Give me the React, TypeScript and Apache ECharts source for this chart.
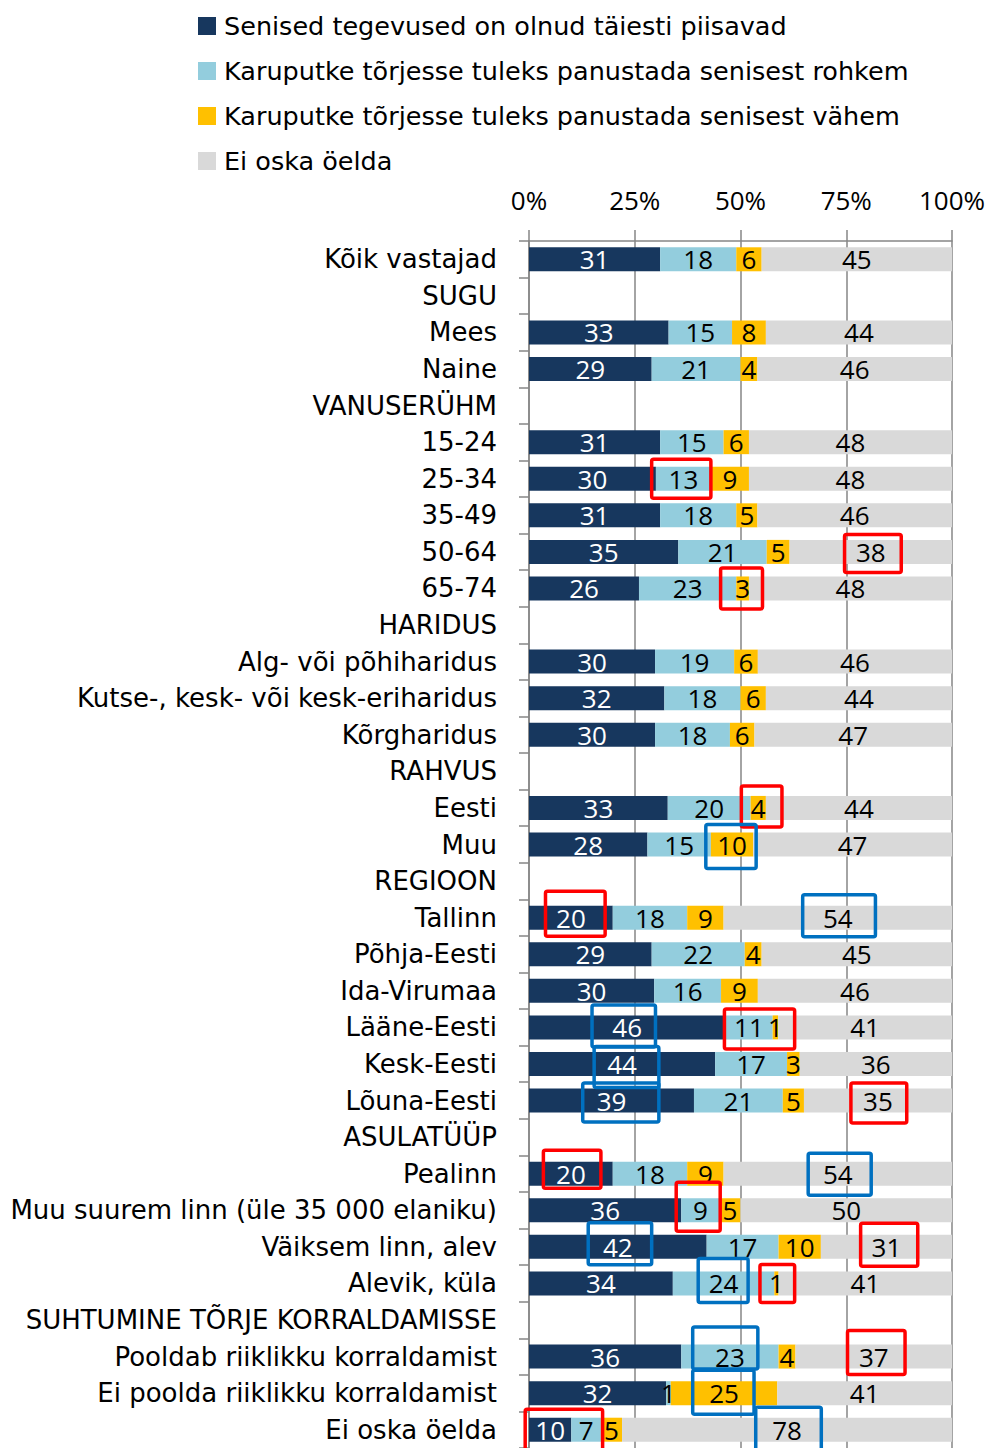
import React, { useEffect, useRef } from 'react';
import * as echarts from 'echarts';

const categories = [
  'Kõik vastajad',
  'SUGU',
  'Mees',
  'Naine',
  'VANUSERÜHM',
  '15-24',
  '25-34',
  '35-49',
  '50-64',
  '65-74',
  'HARIDUS',
  'Alg- või põhiharidus',
  'Kutse-, kesk- või kesk-eriharidus',
  'Kõrgharidus',
  'RAHVUS',
  'Eesti',
  'Muu',
  'REGIOON',
  'Tallinn',
  'Põhja-Eesti',
  'Ida-Virumaa',
  'Lääne-Eesti',
  'Kesk-Eesti',
  'Lõuna-Eesti',
  'ASULATÜÜP',
  'Pealinn',
  'Muu suurem linn (üle 35 000 elaniku)',
  'Väiksem linn, alev',
  'Alevik, küla',
  'SUHTUMINE TÕRJE KORRALDAMISSE',
  'Pooldab riiklikku korraldamist',
  'Ei poolda riiklikku korraldamist',
  'Ei oska öelda',
];

const seriesNames = [
  'Senised tegevused on olnud täiesti piisavad',
  'Karuputke tõrjesse tuleks panustada senisest rohkem',
  'Karuputke tõrjesse tuleks panustada senisest vähem',
  'Ei oska öelda',
];

// Shares in percent (labels are shown rounded); null = group header row
const sufficient = [31, null, 33, 29, null, 31, 30, 31, 35.3, 26, null, 29.8, 32, 29.8, null, 32.8, 28, null, 19.8, 29, 29.6, 46.4, 44, 39, null, 19.8, 36, 42, 34, null, 36, 32.4, 10];
const more = [18, null, 15, 21, null, 15, 13, 18, 20.9, 23, null, 18.7, 18, 17.7, null, 19.6, 15, null, 17.6, 22, 15.8, 11.2, 17, 21, null, 17.6, 9, 17, 24, null, 23, 1.1, 7];
const less = [6, null, 8, 4, null, 6, 9, 5, 5.4, 3, null, 5.6, 6, 5.8, null, 3.6, 10, null, 8.6, 4, 8.7, 1.3, 3, 5, null, 8.6, 5, 10, 1, null, 4, 25.2, 5];
const dontKnow = [45, null, 44, 46, null, 48, 48, 46, 38.4, 48, null, 45.9, 44, 46.7, null, 44, 47, null, 54, 45, 45.9, 41.1, 36, 35, null, 54, 50, 31, 41, null, 37, 41.3, 78];

const xTicks = [0, 25, 50, 75, 100];

// Highlight boxes drawn over the chart (row = category, from/to = percent range)
const highlights = [
  { row: '25-34', from: 29.0, to: 43.0, dy: 0, h: 39, color: 'red' },
  { row: '50-64', from: 74.6, to: 88.0, dy: 1.5, h: 38, color: 'red' },
  { row: '65-74', from: 45.3, to: 55.2, dy: 0, h: 41, color: 'red' },
  { row: 'Eesti', from: 50.2, to: 59.8, dy: -1.5, h: 41, color: 'red' },
  { row: 'Muu', from: 41.8, to: 53.7, dy: 2, h: 44, color: 'blue' },
  { row: 'Tallinn', from: 3.9, to: 18.0, dy: -4, h: 45, color: 'red' },
  { row: 'Tallinn', from: 64.7, to: 81.9, dy: -2, h: 42, color: 'blue' },
  { row: 'Lääne-Eesti', from: 14.9, to: 29.9, dy: -1.5, h: 42, color: 'blue' },
  { row: 'Lääne-Eesti', from: 46.2, to: 62.8, dy: 1.5, h: 40, color: 'red' },
  { row: 'Kesk-Eesti', from: 15.4, to: 30.7, dy: 3, h: 41, color: 'blue' },
  { row: 'Lõuna-Eesti', from: 12.7, to: 30.7, dy: 2, h: 39, color: 'blue' },
  { row: 'Lõuna-Eesti', from: 76.1, to: 89.3, dy: 2.5, h: 40, color: 'red' },
  { row: 'Pealinn', from: 3.4, to: 17.0, dy: -4.5, h: 38, color: 'red' },
  { row: 'Pealinn', from: 66.0, to: 80.9, dy: 0.5, h: 42, color: 'blue' },
  { row: 'Muu suurem linn (üle 35 000 elaniku)', from: 34.8, to: 45.2, dy: -3.5, h: 49, color: 'red' },
  { row: 'Väiksem linn, alev', from: 14.0, to: 29.0, dy: -3, h: 42, color: 'blue' },
  { row: 'Väiksem linn, alev', from: 78.4, to: 91.9, dy: -2, h: 43, color: 'red' },
  { row: 'Alevik, küla', from: 40.0, to: 51.8, dy: -3, h: 44, color: 'blue' },
  { row: 'Alevik, küla', from: 54.6, to: 62.8, dy: 0, h: 38, color: 'red' },
  { row: 'Pooldab riiklikku korraldamist', from: 38.7, to: 54.1, dy: -8.5, h: 42, color: 'blue' },
  { row: 'Pooldab riiklikku korraldamist', from: 75.3, to: 88.9, dy: -4, h: 44, color: 'red' },
  { row: 'Ei poolda riiklikku korraldamist', from: 38.7, to: 53.2, dy: -1, h: 44, color: 'blue' },
  { row: 'Ei oska öelda', from: -0.9, to: 17.4, dy: 1.5, h: 44, color: 'red' },
  { row: 'Ei oska öelda', from: 53.6, to: 69.1, dy: 0, h: 45, color: 'blue' },
];

const COLORS = ['#17375E', '#93CDDD', '#FFC000', '#D9D9D9'];
const BOX_COLORS: Record<string, string> = { red: '#FF0000', blue: '#0070C0' };
const TEXT_FONT = 'DejaVu Sans';
const NUM_FONT = 'Open Sans';
const AXIS_GRAY = '#868686';

export default function App() {
  const ref = useRef<HTMLDivElement>(null);

  useEffect(() => {
    if (!ref.current) return;
    const chart = echarts.init(ref.current, undefined, { renderer: 'svg' });
    const seriesData = [sufficient, more, less, dontKnow];

    chart.setOption({
      animation: false,
      color: COLORS,
      textStyle: { fontFamily: TEXT_FONT },
      legend: {
        orient: 'vertical',
        left: 198,
        top: 11,
        padding: 0,
        itemWidth: 18,
        itemHeight: 18,
        itemGap: 15,
        icon: 'rect',
        data: seriesNames,
        textStyle: { fontSize: 25.5, fontFamily: TEXT_FONT, color: '#000', lineHeight: 30, padding: [0, 0, 0, 3] },
      },
      grid: { left: 529, right: 37, top: 241, height: 1207 },
      xAxis: {
        type: 'value',
        position: 'top',
        min: 0,
        max: 100,
        interval: 25,
        axisLine: { show: true, lineStyle: { color: AXIS_GRAY, width: 1.5 } },
        axisTick: { show: true, length: 11, lineStyle: { color: AXIS_GRAY, width: 1.5 } },
        splitLine: { show: true, lineStyle: { color: AXIS_GRAY, width: 1.5 } },
        axisLabel: {
          fontSize: 26,
          fontFamily: NUM_FONT,
          color: '#000',
          margin: 28,
          formatter: (v: number) => (xTicks.includes(v) ? `${v}%` : ''),
        },
      },
      yAxis: {
        type: 'category',
        inverse: true,
        data: categories,
        axisLine: { show: true, lineStyle: { color: AXIS_GRAY, width: 1.5 } },
        axisTick: { show: true, length: 10, lineStyle: { color: AXIS_GRAY, width: 1.5 } },
        axisLabel: { fontSize: 26, fontFamily: TEXT_FONT, color: '#000', margin: 32, interval: 0 },
      },
      series: seriesNames.map((name, i) => ({
        name,
        type: 'bar',
        stack: 'total',
        barWidth: 24,
        data: seriesData[i],
        itemStyle: { color: COLORS[i] },
        label: {
          show: true,
          position: 'inside',
          fontSize: 26,
          fontFamily: NUM_FONT,
          color: i === 0 ? '#FFFFFF' : '#000000',
          formatter: (p: any) => (p.value == null ? '' : String(Math.round(p.value))),
        },
      })),
    });

    const graphics = highlights.map((b) => {
      const rowIdx = categories.indexOf(b.row);
      const p0 = chart.convertToPixel({ gridIndex: 0 }, [b.from, rowIdx]) as number[];
      const p1 = chart.convertToPixel({ gridIndex: 0 }, [b.to, rowIdx]) as number[];
      const cy = p0[1] + b.dy;
      return {
        type: 'rect',
        z: 100,
        silent: true,
        shape: { x: p0[0], y: cy - b.h / 2, width: p1[0] - p0[0], height: b.h, r: 2 },
        style: { fill: 'none', stroke: BOX_COLORS[b.color], lineWidth: 3.5 },
      };
    });
    chart.setOption({ graphic: graphics });

    return () => chart.dispose();
  }, []);

  return (
    <div
      ref={ref}
      style={{ position: 'absolute', left: 0, top: 0, width: 989, height: 1448 }}
    />
  );
}
